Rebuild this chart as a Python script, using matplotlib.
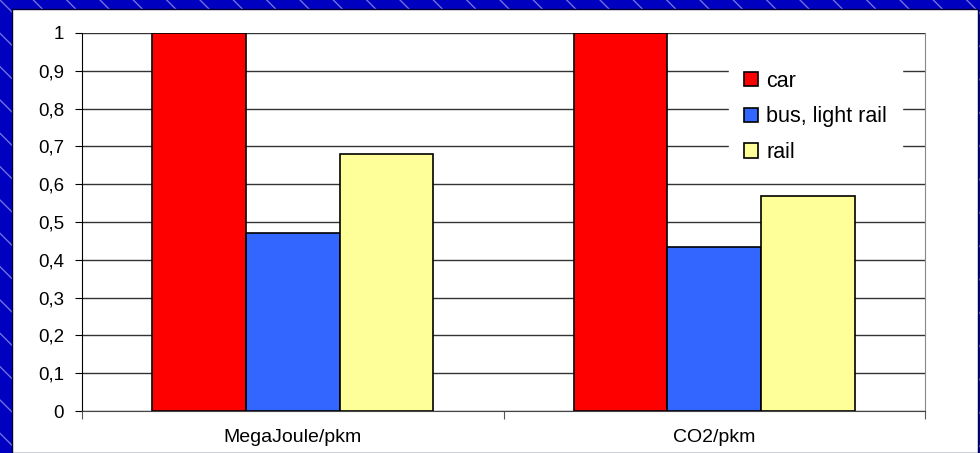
import matplotlib.pyplot as plt
import numpy as np
from matplotlib.patches import Rectangle

categories = ['MegaJoule/pkm', 'CO2/pkm']
series = ['car', 'bus, light rail', 'rail']
car = [1.0, 1.0]
bus = [0.47, 0.435]
rail = [0.68, 0.57]
colors = ['#FF0000', '#3366FF', '#FFFF99']
yticks = [0, 0.1, 0.2, 0.3, 0.4, 0.5, 0.6, 0.7, 0.8, 0.9, 1]
ylabels = ['0', '0,1', '0,2', '0,3', '0,4', '0,5', '0,6', '0,7', '0,8', '0,9', '1']

plt.rcParams['font.family'] = ['Liberation Sans', 'DejaVu Sans']

fig = plt.figure(figsize=(9.8, 4.53), dpi=100)
fig.patch.set_facecolor('#0000C0')

# slide background: blue with diagonal stripes
bg = Rectangle((0, 0), 1, 1, transform=fig.transFigure, facecolor='#0000C0',
               edgecolor='#7070E0', hatch='\\', linewidth=0, zorder=-3)
fig.patches.append(bg)

# white chart panel
panel = Rectangle((12 / 980, 0), 966 / 980, 1 - 9 / 453, transform=fig.transFigure,
                  facecolor='white', edgecolor='#000033', linewidth=1, zorder=-2)
fig.patches.append(panel)

ax = fig.add_axes([82 / 980, 1 - 411 / 453, (925 - 82) / 980, (411 - 33) / 453])
ax.set_facecolor('white')

x = np.arange(len(categories))
w = 1 / 4.5
for i, (vals, c, lab) in enumerate(zip([car, bus, rail], colors, series)):
    ax.bar(x + (i - 1) * w, vals, width=w, color=c, edgecolor='black',
           linewidth=1.2, label=lab, zorder=3)

ax.set_xlim(-0.5, 1.5)
ax.set_ylim(0, 1)
ax.set_yticks(yticks)
ax.set_yticklabels(ylabels)
ax.set_xticks([-0.5, 0.5, 1.5], minor=False)
ax.set_xticklabels([])
ax.set_xticks(x, minor=True)
ax.set_xticklabels(categories, minor=True)
ax.tick_params(axis='x', which='minor', length=0, pad=13, labelsize=14)
ax.tick_params(axis='x', which='major', length=6, direction='out', color='#555555')
ax.tick_params(axis='y', length=5, pad=8, labelsize=13.5, direction='out')

ax.grid(axis='y', color='#333333', linewidth=1, zorder=0)
ax.set_axisbelow(True)
ax.spines['top'].set_visible(False)
ax.spines['right'].set_color('#888888')
ax.spines['left'].set_color('black')
ax.spines['bottom'].set_color('#444444')

leg = ax.legend(loc='upper left', bbox_to_anchor=(0.768, 0.94), frameon=True,
                fontsize=15.5, handlelength=0.65, handleheight=0.65, handletextpad=0.35,
                labelspacing=0.68, borderpad=0.7, borderaxespad=0, fancybox=False)
leg.get_frame().set_edgecolor('white')
leg.get_frame().set_facecolor('white')
leg.get_frame().set_alpha(1)
leg.set_zorder(5)

fig.savefig('out.png', dpi=100, facecolor=fig.get_facecolor())
